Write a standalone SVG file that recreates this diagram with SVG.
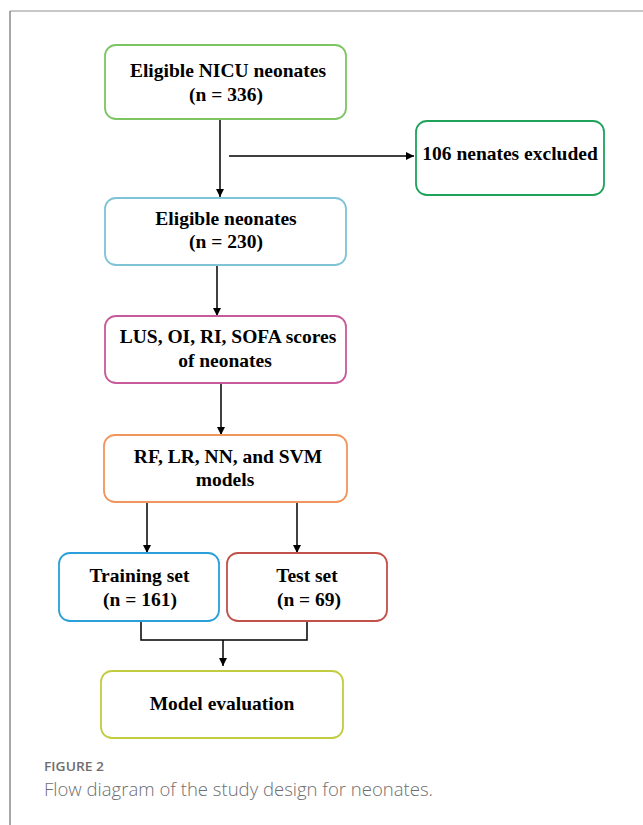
<svg xmlns="http://www.w3.org/2000/svg" width="643" height="825" viewBox="0 0 643 825">
<style>
.box{fill:#fff;stroke-width:1.8}
.t{font-family:"Liberation Serif","Times New Roman",serif;font-weight:bold;font-size:19.5px;fill:#000;text-anchor:middle}
.c{fill:none;stroke:#000;stroke-width:1.5}
.cap{font-family:"Open Sans","Noto Sans",sans-serif;fill:#6e6e6e}
</style>
<defs>
<marker id="ah" viewBox="0 0 10 10" refX="10" refY="5" markerWidth="8" markerHeight="8" markerUnits="userSpaceOnUse" orient="auto">
<path d="M0,0 L10,5 L0,10 z" fill="#000"/>
</marker>
</defs>
<rect x="0" y="0" width="643" height="825" fill="#fff"/>
<line x1="10" y1="11" x2="643" y2="11" stroke="#b4b4b4" stroke-width="1.5"/>
<line x1="10" y1="11" x2="10" y2="825" stroke="#8a8a8a" stroke-width="1.5"/>

<g id="connectors">
<line class="c" x1="220" y1="119" x2="220" y2="197" marker-end="url(#ah)"/>
<line class="c" x1="229" y1="156" x2="414" y2="156" marker-end="url(#ah)"/>
<line class="c" x1="217" y1="265" x2="217" y2="316" marker-end="url(#ah)"/>
<line class="c" x1="221" y1="383" x2="221" y2="435" marker-end="url(#ah)"/>
<line class="c" x1="147" y1="502" x2="147" y2="553" marker-end="url(#ah)"/>
<line class="c" x1="297" y1="502" x2="297" y2="553" marker-end="url(#ah)"/>
<path class="c" d="M141,621 V640 H307 V621"/>
<line class="c" x1="223" y1="640" x2="223" y2="666" marker-end="url(#ah)"/>
</g>

<g id="n1">
<rect class="box" x="105" y="45" width="241" height="74" rx="11" stroke="#7dc462"/>
<text class="t" x="228" y="77">Eligible NICU neonates</text>
<text class="t" x="226" y="101">(n = 336)</text>
</g>
<g id="n_excl">
<rect class="box" x="416" y="121" width="188" height="74" rx="11" stroke="#1fa35c"/>
<text class="t" x="510" y="160">106 nenates excluded</text>
</g>
<g id="n2">
<rect class="box" x="105" y="198" width="241" height="67" rx="11" stroke="#7ec3d6"/>
<text class="t" x="226" y="225">Eligible neonates</text>
<text class="t" x="226" y="248">(n = 230)</text>
</g>
<g id="n3">
<rect class="box" x="105" y="316" width="241" height="67" rx="11" stroke="#c75a9b"/>
<text class="t" x="228" y="343">LUS, OI, RI, SOFA scores</text>
<text class="t" x="225" y="367">of neonates</text>
</g>
<g id="n4">
<rect class="box" x="104" y="435" width="243" height="67" rx="11" stroke="#f0965c"/>
<text class="t" x="228" y="463">RF, LR, NN, and SVM</text>
<text class="t" x="225" y="486">models</text>
</g>
<g id="n_train">
<rect class="box" x="59" y="553" width="160" height="68" rx="11" stroke="#2aa0d8"/>
<text class="t" x="139.5" y="582">Training set</text>
<text class="t" x="140" y="606">(n = 161)</text>
</g>
<g id="n_test">
<rect class="box" x="227" y="553" width="160" height="68" rx="11" stroke="#c2504b"/>
<text class="t" x="307" y="582">Test set</text>
<text class="t" x="309" y="606">(n = 69)</text>
</g>
<g id="n_eval">
<rect class="box" x="101" y="671" width="242" height="67" rx="11" stroke="#c3cc40"/>
<text class="t" x="222" y="710">Model evaluation</text>
</g>

<text class="cap" x="44" y="771" font-size="12" font-weight="600" textLength="60" lengthAdjust="spacingAndGlyphs">FIGURE 2</text>
<text class="cap" x="44" y="796" font-size="17.5" font-weight="300" textLength="389" lengthAdjust="spacingAndGlyphs">Flow diagram of the study design for neonates.</text>
</svg>
